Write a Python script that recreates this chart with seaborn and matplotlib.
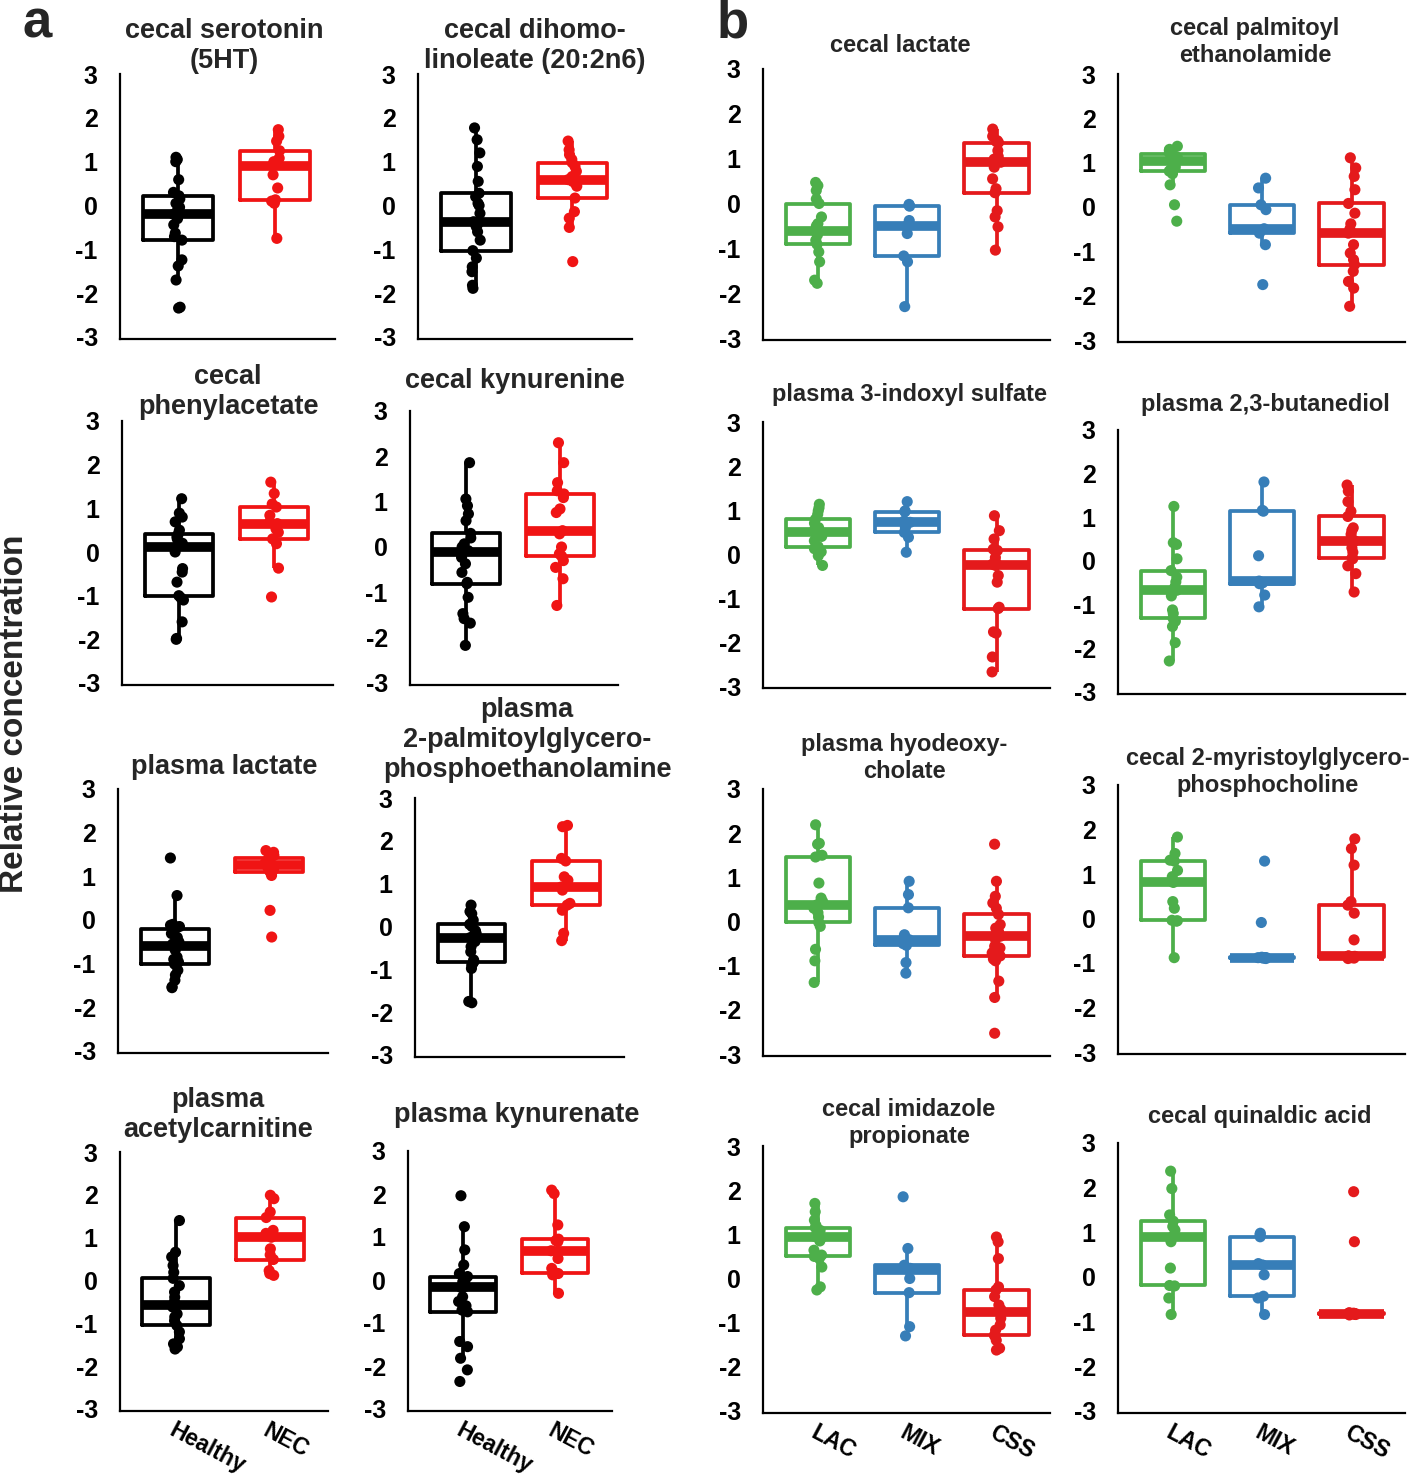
import numpy as np
import pandas as pd
import seaborn as sns
import matplotlib.pyplot as plt

# ---- data (relative concentration) ----
groups_a = ["Healthy", "NEC"]
groups_b = ["LAC", "MIX", "CSS"]
colors_a = ["#000000", "#f01414"]
colors_b = ["#4daf4a", "#377eb8", "#e41a1c"]

serotonin_healthy = [-2.34, -2.32, -1.7, -1.38, -1.24, -0.79, -0.71, -0.63, -0.44, -0.3, -0.2,
                     -0.1, -0.04, 0.05, 0.15, 0.22, 0.3, 0.59, 1.0, 1.05, 1.1]
serotonin_nec = [-0.75, 0.05, 0.1, 0.13, 0.4, 0.7, 0.91, 1.0, 1.08, 1.25, 1.47, 1.58, 1.73]

dihomo_healthy = [-1.89, -1.82, -1.51, -1.4, -1.2, -1.03, -0.79, -0.6, -0.48, -0.42, -0.37,
                  -0.18, 0.0, 0.05, 0.2, 0.28, 0.55, 0.89, 1.2, 1.5, 1.77]
dihomo_nec = [-1.28, -0.5, -0.29, -0.14, 0.17, 0.44, 0.5, 0.55, 0.59, 0.66, 0.78, 0.89, 0.98,
              1.05, 1.16, 1.27, 1.47]

phenylacetate_healthy = [-2.0, -1.98, -1.6, -1.1, -1.05, -1.0, -0.69, -0.46, -0.38, 0.0, 0.11,
                         0.15, 0.2, 0.3, 0.35, 0.42, 0.5, 0.69, 0.8, 0.89, 1.22]
phenylacetate_nec = [-1.03, -0.37, 0.19, 0.3, 0.45, 0.53, 0.65, 0.69, 0.84, 1.03, 1.1, 1.34, 1.6]

kynurenine_healthy = [-2.17, -1.68, -1.58, -1.47, -1.11, -0.81, -0.78, -0.56, -0.37, -0.23, -0.1,
                      -0.08, 0.0, 0.07, 0.2, 0.3, 0.58, 0.73, 0.91, 1.06, 1.86]
kynurenine_nec = [-1.29, -0.7, -0.45, -0.3, -0.2, -0.15, 0.0, 0.29, 0.36, 0.76, 0.84, 1.09, 1.17,
                  1.24, 1.42, 1.86, 2.3]

pl_lactate_healthy = [-1.55, -1.53, -1.38, -1.26, -1.15, -1.01, -0.96, -0.9, -0.85, -0.69, -0.59,
                      -0.55, -0.5, -0.4, -0.31, -0.21, -0.15, -0.12, -0.1, 0.56, 1.42]
pl_lactate_nec = [-0.39, 0.22, 1.02, 1.11, 1.15, 1.2, 1.26, 1.3, 1.36, 1.41, 1.48, 1.55, 1.59]

pgpe_healthy = [-1.78, -1.75, -0.98, -0.9, -0.85, -0.82, -0.78, -0.59, -0.47, -0.35, -0.26,
                -0.22, -0.16, -0.1, 0.0, 0.05, 0.1, 0.15, 0.3, 0.35, 0.5]
pgpe_nec = [-0.33, -0.16, 0.38, 0.5, 0.54, 0.85, 0.92, 1.08, 1.16, 1.53, 1.59, 2.33, 2.36]

acetylcarn_healthy = [-1.6, -1.55, -1.48, -1.36, -1.2, -1.05, -0.94, -0.85, -0.78, -0.62, -0.57,
                      -0.5, -0.39, -0.27, -0.12, 0.05, 0.19, 0.35, 0.55, 0.66, 1.4]
acetylcarn_nec = [0.12, 0.16, 0.23, 0.49, 0.6, 0.74, 1.01, 1.1, 1.17, 1.47, 1.6, 1.91, 1.99]

kynurenate_healthy = [-2.36, -2.09, -1.82, -1.55, -1.43, -0.74, -0.7, -0.6, -0.5, -0.39, -0.17,
                      -0.15, -0.1, -0.04, 0.0, 0.08, 0.15, 0.35, 0.7, 1.24, 1.96]
kynurenate_nec = [-0.31, 0.12, 0.15, 0.17, 0.27, 0.5, 0.68, 0.89, 0.92, 0.95, 1.28, 2.01, 2.09]

ce_lactate_lac = [-1.78, -1.71, -1.3, -1.08, -0.91, -0.82, -0.7, -0.64, -0.61, -0.5, -0.45, -0.3,
                  0.0, 0.1, 0.29, 0.4, 0.47]
ce_lactate_mix = [-2.3, -1.3, -1.17, -0.67, -0.51, -0.38, -0.06, -0.04, -0.02]
ce_lactate_css = [-1.04, -0.52, -0.3, -0.16, 0.24, 0.33, 0.55, 0.81, 0.92, 0.99, 1.05, 1.18, 1.36,
                  1.38, 1.4, 1.5, 1.66]

pea_lac = [-0.32, 0.05, 0.5, 0.75, 0.81, 0.84, 0.9, 0.96, 1.03, 1.05, 1.07, 1.12, 1.2, 1.22, 1.28,
           1.3, 1.37]
pea_mix = [-1.75, -0.85, -0.59, -0.55, -0.49, -0.06, 0.05, 0.43, 0.65]
pea_css = [-2.24, -1.83, -1.68, -1.45, -1.3, -1.19, -1.04, -0.85, -0.59, -0.5, -0.38, -0.14, 0.08,
           0.39, 0.69, 0.88, 1.11]

indoxyl_lac = [-0.26, -0.04, 0.05, 0.12, 0.17, 0.3, 0.4, 0.45, 0.5, 0.55, 0.6, 0.7, 0.79, 0.9,
               0.98, 1.05, 1.13]
indoxyl_mix = [0.04, 0.38, 0.49, 0.6, 0.72, 0.75, 0.96, 0.98, 1.19]
indoxyl_css = [-2.68, -2.34, -1.8, -1.77, -1.24, -1.21, -0.64, -0.49, -0.26, -0.23, -0.2, -0.08,
               0.08, 0.11, 0.34, 0.53, 0.87]

butanediol_lac = [-2.29, -1.87, -1.5, -1.38, -1.31, -1.2, -1.12, -0.8, -0.67, -0.6, -0.48, -0.37,
                  -0.22, 0.05, 0.38, 0.42, 1.25]
butanediol_mix = [-1.05, -0.78, -0.52, -0.5, -0.46, 0.12, 1.14, 1.16, 1.81]
butanediol_css = [-0.71, -0.29, -0.11, 0.05, 0.08, 0.2, 0.3, 0.4, 0.46, 0.61, 0.7, 0.76, 1.02,
                  1.14, 1.36, 1.6, 1.74]

hyodeoxy_lac = [-1.38, -0.89, -0.63, -0.11, -0.02, 0.1, 0.2, 0.3, 0.38, 0.45, 0.53, 0.87, 1.46,
                1.5, 1.75, 1.77, 2.19]
hyodeoxy_mix = [-1.17, -0.93, -0.54, -0.5, -0.41, -0.3, 0.31, 0.61, 0.91]
hyodeoxy_css = [-2.53, -1.72, -1.35, -0.89, -0.85, -0.78, -0.71, -0.6, -0.56, -0.41, -0.33, -0.3,
                -0.22, -0.15, -0.07, 0.16, 0.3, 0.42, 0.57, 0.91, 1.75]

mgpc_lac = [-0.88, -0.06, -0.05, -0.04, 0.23, 0.38, 0.81, 0.94, 1.08, 1.29, 1.31, 1.46, 1.83]
mgpc_mix = [-0.9, -0.89, -0.88, -0.88, -0.88, -0.88, -0.87, -0.09, 1.29]
mgpc_css = [-0.9, -0.89, -0.88, -0.87, -0.86, -0.86, -0.85, -0.85, -0.85, -0.84, -0.48, 0.12, 0.3,
            0.38, 1.2, 1.57, 1.79]

imidazole_lac = [-0.26, -0.19, 0.26, 0.45, 0.5, 0.53, 0.64, 0.85, 0.93, 0.95, 1.0, 1.09, 1.15,
                 1.2, 1.32, 1.51, 1.7]
imidazole_mix = [-1.3, -1.09, -0.32, 0.0, 0.19, 0.23, 0.3, 0.68, 1.85]
imidazole_css = [-1.62, -1.58, -1.4, -1.3, -1.28, -1.17, -1.05, -0.9, -0.75, -0.7, -0.6, -0.41,
                 -0.26, -0.19, 0.45, 0.83, 0.94]

quinaldic_lac = [-0.84, -0.47, -0.2, -0.19, 0.2, 0.79, 0.9, 1.05, 1.13, 1.25, 1.39, 1.98, 2.37]
quinaldic_mix = [-0.84, -0.47, -0.43, 0.05, 0.27, 0.3, 0.9, 0.95, 0.98]
quinaldic_css = [-0.85, -0.84, -0.83, -0.83, -0.82, -0.82, -0.82, -0.82, -0.81, -0.81, -0.8,
                 0.79, 1.91]

titles_a = ["cecal serotonin\n(5HT)", "cecal dihomo-\nlinoleate (20:2n6)",
            "cecal\nphenylacetate", "cecal kynurenine",
            "plasma lactate", "plasma\n2-palmitoylglycero-\nphosphoethanolamine",
            "plasma\nacetylcarnitine", "plasma kynurenate"]
titles_b = ["cecal lactate", "cecal palmitoyl\nethanolamide",
            "plasma 3-indoxyl sulfate", "plasma 2,3-butanediol",
            "plasma hyodeoxy-\ncholate", "cecal 2-myristoylglycero-\nphosphocholine",
            "cecal imidazole\npropionate", "cecal quinaldic acid"]

series_a = [[serotonin_healthy, serotonin_nec], [dihomo_healthy, dihomo_nec],
            [phenylacetate_healthy, phenylacetate_nec], [kynurenine_healthy, kynurenine_nec],
            [pl_lactate_healthy, pl_lactate_nec], [pgpe_healthy, pgpe_nec],
            [acetylcarn_healthy, acetylcarn_nec], [kynurenate_healthy, kynurenate_nec]]
series_b = [[ce_lactate_lac, ce_lactate_mix, ce_lactate_css], [pea_lac, pea_mix, pea_css],
            [indoxyl_lac, indoxyl_mix, indoxyl_css], [butanediol_lac, butanediol_mix, butanediol_css],
            [hyodeoxy_lac, hyodeoxy_mix, hyodeoxy_css], [mgpc_lac, mgpc_mix, mgpc_css],
            [imidazole_lac, imidazole_mix, imidazole_css], [quinaldic_lac, quinaldic_mix, quinaldic_css]]

# ---- layout (pixels: left, y of +3, right, y of -3) and title centres ----
W, H = 1417, 1479
boxes_a = [(120, 74, 335, 337), (418, 74, 632, 337), (122, 421, 333, 683), (410, 411, 618, 683),
           (118, 789, 328, 1051), (415, 798, 624, 1055), (120, 1152, 328, 1409), (408, 1151, 612, 1409)]
boxes_b = [(763, 69, 1050, 338), (1118, 74, 1405, 340), (763, 422, 1050, 686), (1118, 430, 1405, 692),
           (763, 789, 1050, 1054), (1118, 785, 1405, 1052), (763, 1146, 1050, 1411), (1118, 1143, 1405, 1411)]
tpos_a = [(224, 46), (535, 46), (228, 392), (515, 381), (224, 767), (527, 740), (218, 1115), (517, 1115)]
tpos_b = [(900, 46), (1255, 42), (909, 394), (1265, 404), (904, 758), (1268, 772), (909, 1123), (1260, 1116)]

sns.set_style("white")
plt.rcParams['font.family'] = ['Liberation Sans', 'DejaVu Sans']
plt.rcParams['font.weight'] = 'bold'
plt.rcParams['axes.unicode_minus'] = False
np.random.seed(3)

fig = plt.figure(figsize=(W / 100, H / 100), dpi=100)


def draw_panel(box, tpos, title, series, groups, colors, xlim, show_labels, tsize, lsp):
    l, t, r, b = box
    ylo, yhi = -3.04, 3.0
    bpix = b + (b - t) * 0.04 / 6
    ax = fig.add_axes([l / W, 1 - bpix / H, (r - l) / W, (bpix - t) / H])
    df = pd.DataFrame({"group": np.repeat(groups, [len(s) for s in series]),
                       "value": np.concatenate(series)})
    pal = dict(zip(groups, colors))
    sns.boxplot(data=df, x="group", y="value", hue="group", palette=pal, order=groups,
                fill=False, width=0.72, linewidth=2.7, showcaps=False, showfliers=False,
                whis=1.5, medianprops={"linewidth": 7}, legend=False, ax=ax)
    sns.stripplot(data=df, x="group", y="value", hue="group", palette=pal, order=groups,
                  jitter=0.05, size=8, linewidth=0, zorder=4, legend=False, ax=ax)
    ax.set_xlim(*xlim)
    ax.set_ylim(ylo, yhi)
    ax.set_yticks([-3, -2, -1, 0, 1, 2, 3])
    ax.set_yticklabels(["-3", "-2", "-1", "0", "1", "2", "3"], fontsize=18, fontweight='bold')
    ax.set_xticks(range(len(groups)))
    if show_labels:
        ax.set_xticklabels(groups, rotation=-28, ha='left', va='top', rotation_mode='anchor',
                           fontsize=16.5, fontweight='bold')
    else:
        ax.set_xticklabels([])
    ax.set_xlabel("")
    ax.set_ylabel("")
    for s in ["top", "right"]:
        ax.spines[s].set_visible(False)
    for s in ["left", "bottom"]:
        ax.spines[s].set_linewidth(1.6)
        ax.spines[s].set_color("black")
    ax.tick_params(axis='y', direction='out', length=6, width=1.6, colors='black', pad=10)
    ax.tick_params(axis='x', direction='out', length=6, width=1.6, colors='black', pad=0)
    ax.patch.set_alpha(0)
    fig.text(tpos[0] / W, 1 - tpos[1] / H, title, ha='center', va='center',
             fontsize=tsize, fontweight='bold', linespacing=lsp)


for i in range(8):
    draw_panel(boxes_a[i], tpos_a[i], titles_a[i], series_a[i], groups_a, colors_a,
               (-0.6, 1.62), i >= 6, 19.5, 1.18)
    draw_panel(boxes_b[i], tpos_b[i], titles_b[i], series_b[i], groups_b, colors_b,
               (-0.62, 2.6), i >= 6, 17, 1.22)

fig.text(15 / W, 1 - 714 / H, "Relative concentration", rotation=90, ha='center', va='center',
         fontsize=24, fontweight='bold')
fig.text(37 / W, 1 - 38 / H, "a", ha='center', va='baseline', fontsize=38, fontweight='bold')
fig.text(733 / W, 1 - 38 / H, "b", ha='center', va='baseline', fontsize=38, fontweight='bold')

fig.savefig("out.png", dpi=100)
